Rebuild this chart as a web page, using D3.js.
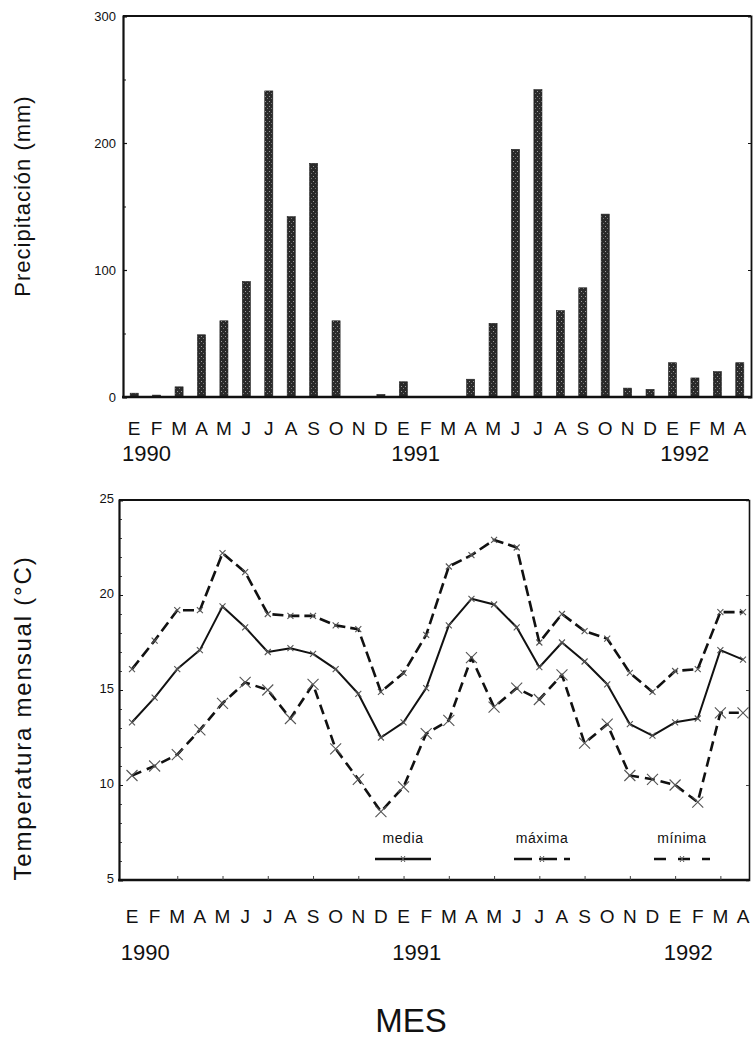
<!DOCTYPE html>
<html>
<head>
<meta charset="utf-8">
<script src="https://cdn.jsdelivr.net/npm/d3@7"></script>
<style>
  body { margin: 0; background: #fff; }
  svg { display: block; }
  text { font-family: "Liberation Sans", Arial, Helvetica, sans-serif; fill: #111; }
</style>
</head>
<body>
<svg id="chart" width="753" height="1038"></svg>
<script>
// Month initials (Spanish), Jan 1990 .. Apr 1992
const months = ["E","F","M","A","M","J","J","A","S","O","N","D",
                "E","F","M","A","M","J","J","A","S","O","N","D",
                "E","F","M","A"];
const yearLabels = ["1990", "1991", "1992"];
const yearStartIndex = [0, 12, 24];

// Monthly precipitation (mm)
const precipitation = [3, 1.5, 8, 49, 60, 91, 241, 142, 184, 60, 0, 2,
                       12, 0, 0, 14, 58, 195, 242, 68, 86, 144, 7, 6,
                       27, 15, 20, 27];
const precipTicks = [0, 100, 200, 300];

// Monthly temperature (°C)
const tempMedia = [13.3, 14.6, 16.1, 17.1, 19.4, 18.3, 17.0, 17.2, 16.9, 16.1, 14.8, 12.5,
                   13.3, 15.1, 18.4, 19.8, 19.5, 18.3, 16.2, 17.5, 16.5, 15.3, 13.2, 12.6,
                   13.3, 13.5, 17.1, 16.6];
const tempMax = [16.1, 17.6, 19.2, 19.2, 22.2, 21.2, 19.0, 18.9, 18.9, 18.4, 18.2, 14.9,
                 15.9, 17.9, 21.5, 22.1, 22.9, 22.5, 17.5, 19.0, 18.1, 17.7, 15.9, 14.9,
                 16.0, 16.1, 19.1, 19.1];
const tempMin = [10.5, 11.0, 11.6, 12.9, 14.3, 15.4, 15.0, 13.5, 15.3, 11.9, 10.3, 8.6,
                 9.9, 12.7, 13.4, 16.7, 14.1, 15.1, 14.5, 15.8, 12.2, 13.2, 10.5, 10.3,
                 10.0, 9.1, 13.8, 13.8];
const tempTicks = [5, 10, 15, 20, 25];
const legendNames = ["media", "máxima", "mínima"];

const svg = d3.select("#chart");
const ink = "#111";
const idx = d3.range(months.length);

// textured fill for the bars
const defs = svg.append("defs");
const pat = defs.append("pattern").attr("id", "stipple")
  .attr("width", 4).attr("height", 5).attr("patternUnits", "userSpaceOnUse");
pat.append("rect").attr("width", 4).attr("height", 5).attr("fill", "#2a2a2a");
pat.append("rect").attr("x", 1).attr("y", 1).attr("width", 1).attr("height", 1).attr("fill", "#9a9a9a");
pat.append("rect").attr("x", 3).attr("y", 3).attr("width", 1).attr("height", 1).attr("fill", "#777");

/* ---------------- Precipitation ---------------- */
const P = { left: 123, right: 751, top: 16, bottom: 397 };
const xBar = d3.scaleBand().domain(idx).range([P.left, P.right])
  .paddingInner(0.64).paddingOuter(0.32);
const yP = d3.scaleLinear().domain([0, 300]).range([P.bottom, P.top]);

const gP = svg.append("g");
gP.selectAll("rect.bar").data(idx).join("rect")
  .attr("class", "bar")
  .attr("x", i => xBar(i))
  .attr("width", xBar.bandwidth())
  .attr("y", i => yP(precipitation[i]))
  .attr("height", i => yP(0) - yP(precipitation[i]))
  .attr("fill", "url(#stipple)")
  .attr("stroke", "#222").attr("stroke-width", 0.6);

// minor ticks every 50 mm
gP.append("g").attr("transform", `translate(${P.left},0)`)
  .call(d3.axisLeft(yP).tickValues(d3.range(50, 300, 100)).tickSize(-3).tickFormat(""))
  .call(g => g.select(".domain").remove())
  .call(g => g.selectAll("line").attr("stroke", ink));

const axP = gP.append("g").attr("transform", `translate(${P.left},0)`)
  .call(d3.axisLeft(yP).tickValues(precipTicks).tickSize(-4).tickPadding(7));
axP.select(".domain").attr("stroke", ink).attr("stroke-width", 2.2);
axP.selectAll("line").attr("stroke", ink).attr("stroke-width", 1.2);
axP.selectAll("text").attr("font-size", 13).attr("fill", ink).style("font-family", "Liberation Sans, Arial, sans-serif");

// right side ticks
const axPR = gP.append("g").attr("transform", `translate(${P.right},0)`)
  .call(d3.axisRight(yP).tickValues(precipTicks).tickSize(-3).tickFormat(""));
axPR.select(".domain").attr("stroke", ink).attr("stroke-width", 1.8);
axPR.selectAll("line").attr("stroke", ink);

// top and bottom frame
gP.append("line").attr("x1", P.left).attr("x2", P.right).attr("y1", P.top).attr("y2", P.top)
  .attr("stroke", ink).attr("stroke-width", 2.2);
gP.append("line").attr("x1", P.left - 1).attr("x2", P.right).attr("y1", P.bottom).attr("y2", P.bottom)
  .attr("stroke", ink).attr("stroke-width", 2.6);

// month and year labels
gP.selectAll("text.mon").data(idx).join("text").attr("class", "mon")
  .attr("x", i => xBar(i) + xBar.bandwidth() / 2).attr("y", 435)
  .attr("text-anchor", "middle").attr("font-size", 19)
  .text(i => months[i]);
gP.selectAll("text.yr").data(yearLabels).join("text").attr("class", "yr")
  .attr("x", (d, k) => xBar(yearStartIndex[k]) + xBar.bandwidth() / 2 - xBar.step() / 2 - 1)
  .attr("y", 461).attr("font-size", 22)
  .text(d => d);

svg.append("text")
  .attr("transform", "translate(30,196) rotate(-90)")
  .attr("text-anchor", "middle").attr("font-size", 22).attr("letter-spacing", 1)
  .text("Precipitación (mm)");

/* ---------------- Temperature ---------------- */
const T = { left: 119, right: 749, top: 500, bottom: 880 };
const xT = d3.scalePoint().domain(idx).range([132, 743]);
const yT = d3.scaleLinear().domain([5, 25]).range([T.bottom, T.top]);

const gT = svg.append("g");

// minor ticks each degree
gT.append("g").attr("transform", `translate(${T.left},0)`)
  .call(d3.axisLeft(yT).tickValues(d3.range(6, 25).filter(v => v % 5 !== 0)).tickSize(-3).tickFormat(""))
  .call(g => g.select(".domain").remove())
  .call(g => g.selectAll("line").attr("stroke", "#444"));

const axT = gT.append("g").attr("transform", `translate(${T.left},0)`)
  .call(d3.axisLeft(yT).tickValues(tempTicks).tickSize(-4).tickPadding(5));
axT.select(".domain").attr("stroke", ink).attr("stroke-width", 2.2);
axT.selectAll("line").attr("stroke", ink);
axT.selectAll("text").attr("font-size", 13).attr("fill", ink).attr("dy", "0.2em")
  .style("font-family", "Liberation Sans, Arial, sans-serif");

const axTR = gT.append("g").attr("transform", `translate(${T.right},0)`)
  .call(d3.axisRight(yT).tickValues(tempTicks).tickSize(-3).tickFormat(""));
axTR.select(".domain").attr("stroke", ink).attr("stroke-width", 1.6);
axTR.selectAll("line").attr("stroke", "#444");

gT.append("line").attr("x1", T.left).attr("x2", T.right).attr("y1", T.top).attr("y2", T.top)
  .attr("stroke", ink).attr("stroke-width", 2.2);

const axTB = gT.append("g").attr("transform", `translate(0,${T.bottom})`)
  .call(d3.axisBottom(xT).tickValues(idx.filter(i => i % 2 === 0 && i > 0)).tickSize(-4).tickFormat(""));
axTB.select(".domain").attr("stroke", ink).attr("stroke-width", 2.6)
  .attr("d", `M${T.left - 1},0H${T.right}`);
axTB.selectAll("line").attr("stroke", "#444");

// series lines with their point markers
const series = [
  { name: "media",  values: tempMedia, dash: null,  width: 2.0, mark: 3 },
  { name: "máxima", values: tempMax,   dash: "11,5", width: 2.6, mark: 3 },
  { name: "mínima", values: tempMin,   dash: "10,6", width: 2.6, mark: 5.5 }
];

series.forEach(s => {
  const ln = d3.line().x(i => xT(i)).y(i => yT(s.values[i]));
  gT.append("path").attr("d", ln(idx))
    .attr("fill", "none").attr("stroke", ink).attr("stroke-width", s.width)
    .attr("stroke-dasharray", s.dash).attr("stroke-linejoin", "round");
  const m = s.mark;
  gT.append("g").selectAll("path").data(idx).join("path")
    .attr("d", i => {
      const cx = xT(i), cy = yT(s.values[i]);
      return `M${cx - m},${cy - m}L${cx + m},${cy + m}M${cx - m},${cy + m}L${cx + m},${cy - m}`;
    })
    .attr("stroke", "#555").attr("stroke-width", 1.1).attr("fill", "none");
});

// legend
const legendX = [403, 542, 682];
const legendDash = [null, "18,7", "12,12"];
legendNames.forEach((name, k) => {
  const cx = legendX[k];
  gT.append("text").attr("x", cx).attr("y", 843).attr("text-anchor", "middle")
    .attr("font-size", 14).attr("letter-spacing", 0.6).text(name);
  gT.append("line").attr("x1", cx - 28).attr("x2", cx + 28).attr("y1", 859).attr("y2", 859)
    .attr("stroke", ink).attr("stroke-width", 2.4).attr("stroke-dasharray", legendDash[k]);
  gT.append("path")
    .attr("d", `M${cx - 2},${856}L${cx + 2},${862}M${cx - 2},${862}L${cx + 2},${856}`)
    .attr("stroke", "#555").attr("stroke-width", 1);
});

gT.selectAll("text.mon").data(idx).join("text").attr("class", "mon")
  .attr("x", i => xT(i)).attr("y", 923)
  .attr("text-anchor", "middle").attr("font-size", 19)
  .text(i => months[i]);
gT.selectAll("text.yr").data(yearLabels).join("text").attr("class", "yr")
  .attr("x", (d, k) => xT(yearStartIndex[k]) - xT.step() / 2)
  .attr("y", 960).attr("font-size", 22)
  .text(d => d);

svg.append("text")
  .attr("transform", "translate(31,718) rotate(-90)")
  .attr("text-anchor", "middle").attr("font-size", 24).attr("letter-spacing", 1.8)
  .text("Temperatura mensual (°C)");

svg.append("text").attr("x", 411).attr("y", 1032).attr("text-anchor", "middle")
  .attr("font-size", 33).text("MES");
</script>
</body>
</html>
